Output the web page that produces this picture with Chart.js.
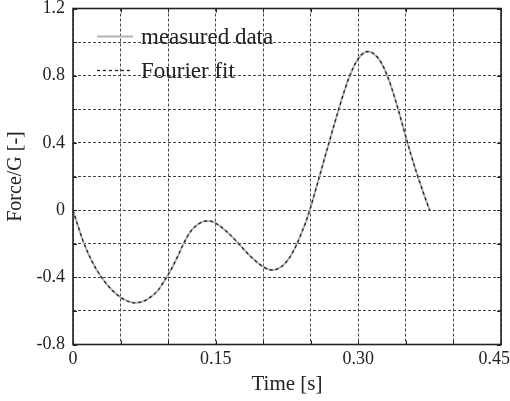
<!DOCTYPE html>
<html>
<head>
<meta charset="utf-8">
<script src="https://cdn.jsdelivr.net/npm/chart.js@4/dist/chart.umd.min.js"></script>
<style>
html,body{margin:0;padding:0;background:#fff;}
#wrap{position:relative;width:510px;height:401px;}
</style>
</head>
<body>
<div id="wrap"><canvas id="c" width="510" height="401"></canvas></div>
<script>
// ---- data ----
const timeValues = [0, 0.005, 0.010, 0.015, 0.020, 0.025, 0.030, 0.035, 0.040, 0.045, 0.050, 0.055, 0.060, 0.065, 0.070, 0.075, 0.080, 0.085, 0.090, 0.095, 0.100, 0.105, 0.110, 0.115, 0.120, 0.125, 0.130, 0.135, 0.140, 0.145, 0.150, 0.155, 0.160, 0.165, 0.170, 0.175, 0.180, 0.185, 0.190, 0.195, 0.200, 0.205, 0.210, 0.215, 0.220, 0.225, 0.230, 0.235, 0.240, 0.245, 0.250, 0.255, 0.260, 0.265, 0.270, 0.275, 0.280, 0.285, 0.290, 0.295, 0.300, 0.305, 0.310, 0.315, 0.320, 0.325, 0.330, 0.335, 0.340, 0.345, 0.350, 0.355, 0.360, 0.365, 0.370, 0.375];
const measuredData = [0, -0.090, -0.175, -0.245, -0.305, -0.357, -0.400, -0.438, -0.470, -0.497, -0.519, -0.536, -0.547, -0.552, -0.549, -0.540, -0.524, -0.502, -0.473, -0.430, -0.385, -0.334, -0.276, -0.215, -0.160, -0.118, -0.090, -0.073, -0.065, -0.066, -0.078, -0.097, -0.120, -0.146, -0.174, -0.205, -0.236, -0.266, -0.293, -0.317, -0.337, -0.352, -0.357, -0.350, -0.333, -0.304, -0.262, -0.207, -0.140, -0.068, 0.020, 0.118, 0.218, 0.318, 0.418, 0.516, 0.612, 0.704, 0.785, 0.852, 0.902, 0.933, 0.944, 0.935, 0.910, 0.868, 0.806, 0.727, 0.636, 0.537, 0.435, 0.337, 0.245, 0.160, 0.077, 0.0];
const fourierFit   = [0, -0.090, -0.175, -0.245, -0.305, -0.357, -0.400, -0.438, -0.470, -0.497, -0.519, -0.536, -0.547, -0.552, -0.549, -0.540, -0.524, -0.502, -0.473, -0.430, -0.385, -0.334, -0.276, -0.215, -0.160, -0.118, -0.090, -0.073, -0.065, -0.066, -0.078, -0.097, -0.120, -0.146, -0.174, -0.205, -0.236, -0.266, -0.293, -0.317, -0.337, -0.352, -0.357, -0.350, -0.333, -0.304, -0.262, -0.207, -0.140, -0.068, 0.020, 0.118, 0.218, 0.318, 0.418, 0.516, 0.612, 0.704, 0.785, 0.852, 0.902, 0.933, 0.944, 0.935, 0.910, 0.868, 0.806, 0.727, 0.636, 0.537, 0.435, 0.337, 0.245, 0.160, 0.077, 0.0];
const seriesLabels = ['measured data', 'Fourier fit'];
const xTickValues = [0, 0.15, 0.30, 0.45];
const xTickLabels = ['0', '0.15', '0.30', '0.45   '];
const yTickValues = [1.2, 0.8, 0.4, 0, -0.4, -0.8];
const yTickLabels = ['1.2', '0.8', '0.4', '0', '-0.4', '-0.8'];

const FONT = "'Liberation Serif', 'Times New Roman', serif";

function pts(xs, ys){ return xs.map((x,i)=>({x:x, y:ys[i]})); }
function labelFor(values, labels, v){
  for (let i=0;i<values.length;i++){ if (Math.abs(values[i]-v) < 1e-6) return labels[i]; }
  return '';
}

const framePlugin = {
  id: 'frame',
  afterDraw(chart){
    const ctx = chart.ctx, a = chart.chartArea;
    const xs = chart.scales.x, ys = chart.scales.y;
    ctx.save();
    ctx.strokeStyle = '#222';
    ctx.lineWidth = 1;
    ctx.setLineDash([]);
    const tl = 4;
    ctx.beginPath();
    xs.ticks.forEach(t => {
      const px = Math.round(xs.getPixelForValue(t.value)) + 0.5;
      ctx.moveTo(px, a.bottom); ctx.lineTo(px, a.bottom - tl);
      ctx.moveTo(px, a.top); ctx.lineTo(px, a.top + tl);
    });
    ys.ticks.forEach(t => {
      const py = Math.round(ys.getPixelForValue(t.value)) + 0.5;
      ctx.moveTo(a.left, py); ctx.lineTo(a.left + tl, py);
      ctx.moveTo(a.right, py); ctx.lineTo(a.right - tl, py);
    });
    ctx.stroke();
    ctx.lineWidth = 1.6;
    ctx.strokeRect(a.left, a.top, a.right - a.left, a.bottom - a.top);
    ctx.restore();
  }
};

const legendPlugin = {
  id: 'innerLegend',
  afterDatasetsDraw(chart){
    const ctx = chart.ctx;
    const a = chart.chartArea;
    ctx.save();
    ctx.font = "23px " + FONT;
    ctx.textBaseline = 'middle';
    ctx.textAlign = 'left';
    chart.data.datasets.forEach((ds, i) => {
      const y = Math.round(a.top + 27.5 + i * 34) + 0.5;
      const x0 = a.left + 24, x1 = a.left + 60;
      ctx.beginPath();
      ctx.strokeStyle = ds.borderColor;
      ctx.lineWidth = ds.borderWidth;
      ctx.setLineDash(ds.borderDash || []);
      ctx.moveTo(x0, y); ctx.lineTo(x1, y);
      ctx.stroke();
      ctx.setLineDash([]);
      ctx.fillStyle = '#222';
      ctx.fillText(ds.label, a.left + 68, y + 1);
    });
    ctx.restore();
  }
};

new Chart(document.getElementById('c'), {
  type: 'line',
  data: {
    datasets: [
      {
        label: seriesLabels[0],
        data: pts(timeValues, measuredData),
        borderColor: '#b4b4b4',
        borderWidth: 2,
        pointRadius: 0,
        cubicInterpolationMode: 'monotone',
        order: 2,
        fill: false
      },
      {
        label: seriesLabels[1],
        data: pts(timeValues, fourierFit),
        borderColor: '#222',
        borderWidth: 1.3,
        borderDash: [3, 3],
        pointRadius: 0,
        cubicInterpolationMode: 'monotone',
        order: 1,
        fill: false
      }
    ]
  },
  options: {
    responsive: false,
    animation: false,
    devicePixelRatio: 1,
    layout: { padding: { left: 0, right: 0, top: 8.5, bottom: 0 } },
    plugins: { legend: { display: false }, tooltip: { enabled: false } },
    scales: {
      x: {
        type: 'linear',
        min: 0, max: 0.45,
        border: { display: false, dash: [3, 2] },
        grid: { color: '#444', lineWidth: 1, drawTicks: false },
        ticks: {
          stepSize: 0.05,
          padding: 4,
          maxRotation: 0,
          autoSkip: false,
          color: '#222',
          font: { family: FONT, size: 18 },
          callback: (v) => labelFor(xTickValues, xTickLabels, v)
        },
        title: { display: true, text: 'Time [s]', color: '#222', font: { family: FONT, size: 21 }, padding: { top: 0, bottom: 4 } },
        afterFit(s){ s.height = 56.5; s.paddingLeft = 0; s.paddingRight = 9; }
      },
      y: {
        type: 'linear',
        min: -0.8, max: 1.2,
        border: { display: false, dash: [3, 2] },
        grid: { color: '#444', lineWidth: 1, drawTicks: false },
        ticks: {
          stepSize: 0.2,
          padding: 8,
          autoSkip: false,
          color: '#222',
          font: { family: FONT, size: 18 },
          callback: (v) => labelFor(yTickValues, yTickLabels, v)
        },
        title: { display: true, text: 'Force/G [-]', color: '#222', font: { family: FONT, size: 20 }, padding: { top: 4, bottom: 0 } },
        afterFit(s){ s.width = 73; s.paddingTop = 0; s.paddingBottom = 0; }
      }
    }
  },
  plugins: [framePlugin, legendPlugin]
});
</script>
</body>
</html>
